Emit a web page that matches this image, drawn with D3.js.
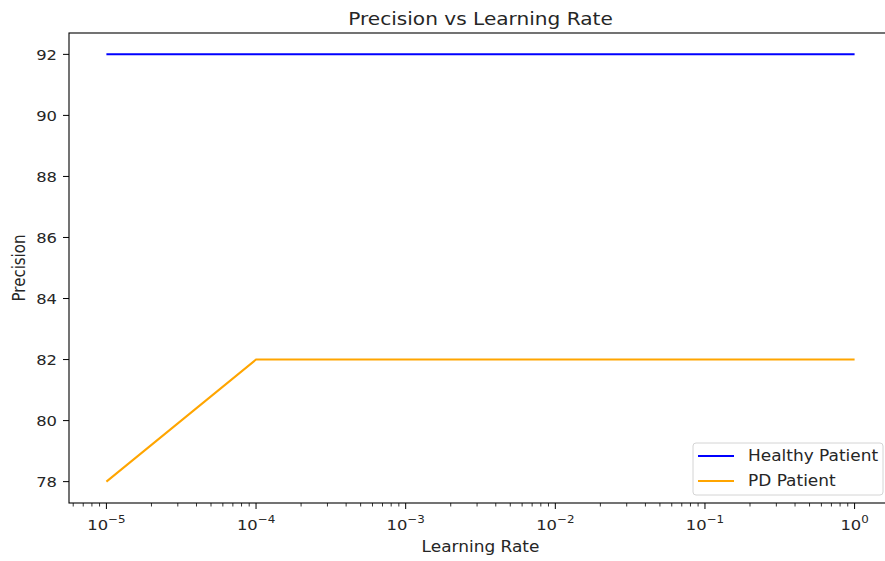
<!DOCTYPE html>
<html>
<head>
<meta charset="utf-8">
<script src="https://cdn.jsdelivr.net/npm/d3@7"></script>
<style>
  html, body { margin: 0; padding: 0; background: #fff; }
  svg { display: block; font-family: "DejaVu Sans", sans-serif; }
</style>
</head>
<body>
<svg id="chart" width="885" height="561"></svg>
<script>
// Learning rates tried and the precision obtained for each patient group
const learningRates = [1e-5, 1e-4, 1e-3, 1e-2, 1e-1, 1];
const healthyPrecision = [92, 92, 92, 92, 92, 92];
const pdPrecision = [78, 82, 82, 82, 82, 82];
const yTicks = [78, 80, 82, 84, 86, 88, 90, 92];
const xTickExponents = [-5, -4, -3, -2, -1, 0];
const seriesNames = ["Healthy Patient", "PD Patient"];
const seriesColors = ["#0000ff", "#ffa500"];

const svg = d3.select("#chart");
const margin = { left: 69, right: 892, top: 33, bottom: 503 };

// Log x scale padded by 5% of the decade span on each side
const xDomain = [Math.pow(10, -5.25), Math.pow(10, 0.25)];
const x = d3.scaleLog().domain(xDomain).range([margin.left, margin.right]);
const y = d3.scaleLinear().domain([77.3, 92.7]).range([margin.bottom, margin.top]);

const textColor = "#262626";
const stretch = 1.13; // glyphs are drawn slightly wide

// Place a text at (px, py) with the horizontal stretch applied around its anchor
function addText(parent, px, py, size, anchor, extra) {
  const g = parent.append("g")
    .attr("transform", `translate(${px},${py}) scale(${stretch},1)` + (extra || ""));
  return g.append("text")
    .attr("x", 0).attr("y", 0)
    .attr("text-anchor", anchor)
    .attr("font-size", size)
    .attr("fill", textColor);
}

// Axes frame
svg.append("rect")
  .attr("x", margin.left).attr("y", margin.top)
  .attr("width", margin.right - margin.left).attr("height", margin.bottom - margin.top)
  .attr("fill", "none").attr("stroke", "#000").attr("stroke-width", 1.1);

// Y ticks
const yAxis = svg.append("g");
yTicks.forEach(v => {
  yAxis.append("line")
    .attr("x1", margin.left - 6).attr("x2", margin.left)
    .attr("y1", y(v)).attr("y2", y(v))
    .attr("stroke", "#000").attr("stroke-width", 1);
  addText(yAxis, margin.left - 12, y(v), 14.5, "end")
    .attr("dy", "0.36em")
    .text(v);
});

// X major ticks with superscript labels
const xAxis = svg.append("g");
xTickExponents.forEach(e => {
  const px = x(Math.pow(10, e));
  xAxis.append("line")
    .attr("x1", px).attr("x2", px)
    .attr("y1", margin.bottom).attr("y2", margin.bottom + 6)
    .attr("stroke", "#000").attr("stroke-width", 1);
  const t = addText(xAxis, px, margin.bottom + 27, 14.5, "middle");
  t.append("tspan").text("10");
  t.append("tspan").attr("dy", -7).attr("font-size", 10.5)
    .text(e < 0 ? "\u2212" + Math.abs(e) : String(e));
});

// X minor ticks (2..9 within each decade, inside the domain)
for (let e = -6; e <= 0; e++) {
  for (let m = 2; m <= 9; m++) {
    const v = m * Math.pow(10, e);
    if (v < xDomain[0] || v > xDomain[1]) continue;
    const px = x(v);
    xAxis.append("line")
      .attr("x1", px).attr("x2", px)
      .attr("y1", margin.bottom).attr("y2", margin.bottom + 3.5)
      .attr("stroke", "#000").attr("stroke-width", 0.8);
  }
}

// Series lines
const line = d3.line().x(d => x(d[0])).y(d => y(d[1]));
[healthyPrecision, pdPrecision].forEach((vals, i) => {
  svg.append("path")
    .datum(learningRates.map((r, j) => [r, vals[j]]))
    .attr("d", line)
    .attr("fill", "none")
    .attr("stroke", seriesColors[i])
    .attr("stroke-width", 2);
});

// Title and axis labels
addText(svg, (margin.left + margin.right) / 2, 25, 17.8, "middle")
  .text("Precision vs Learning Rate");

addText(svg, (margin.left + margin.right) / 2, 552, 15, "middle")
  .text("Learning Rate");

addText(svg, 25, (margin.top + margin.bottom) / 2, 15, "middle", " rotate(-90)")
  .text("Precision");

// Legend
const legend = svg.append("g").attr("transform", "translate(693, 443)");
legend.append("rect")
  .attr("width", 190).attr("height", 52).attr("rx", 3)
  .attr("fill", "#fff").attr("fill-opacity", 0.8)
  .attr("stroke", "#d4d4d4").attr("stroke-width", 1);
seriesNames.forEach((name, i) => {
  const ly = 13 + i * 25;
  legend.append("line")
    .attr("x1", 5).attr("x2", 41).attr("y1", ly).attr("y2", ly)
    .attr("stroke", seriesColors[i]).attr("stroke-width", 2);
  addText(legend, 55, ly, 15, "start")
    .attr("dy", "0.36em")
    .text(name);
});
</script>
</body>
</html>
